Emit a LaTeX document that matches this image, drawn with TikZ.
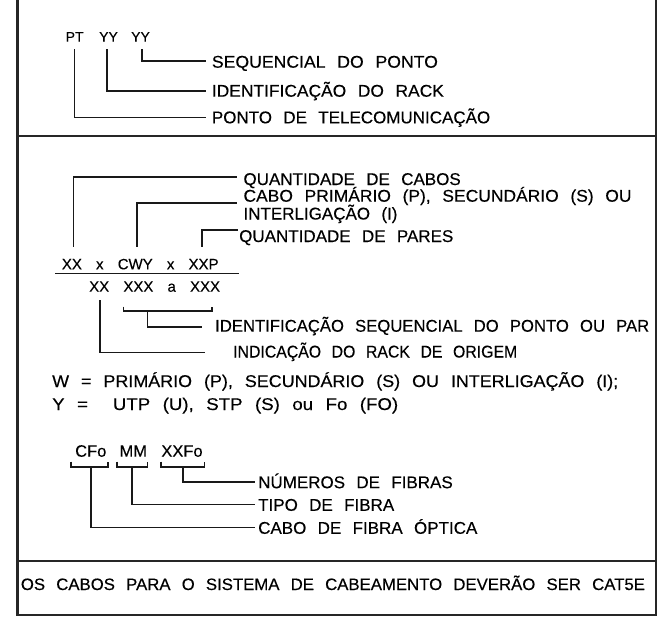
\documentclass[tikz,border=0pt]{standalone}
\usepackage{fontspec}
\usepackage{graphicx}
\setmainfont{Liberation Sans}[WordSpace=2.4, FakeBold=0.3]
\newfontfamily\formfont{Liberation Sans}[WordSpace=3.4, FakeBold=0.3]
\newcommand{\fitw}[2]{\resizebox{#1}{\height}{#2}}
\begin{document}
\begin{tikzpicture}[x=1pt,y=-1pt,
  lbl/.style={anchor=base west, inner sep=0pt, font=\fontsize{17}{17}\selectfont},
  tokpt/.style={anchor=base west, inner sep=0pt, font=\fontsize{14}{14}\selectfont},
  formula/.style={anchor=base west, inner sep=0pt, font=\formfont\fontsize{15}{15}\selectfont},
  fib/.style={anchor=base, inner sep=0pt, font=\fontsize{16.5}{16.5}\selectfont},
  conn/.style={line width=1.6pt, black!90},
  frame/.style={line width=2.2pt, black!85}]
\useasboundingbox (0,0) rectangle (669,630);
% frame
\draw[frame] (17.5,-3) -- (17.5,615) -- (656,615) -- (656,-3);
\draw[frame] (17.5,136) -- (656,136);
\draw[frame] (17.5,561) -- (656,561);

% ---------- top section ----------
\node[tokpt] (pt)  at (65.5,41.7)  {PT};
\node[tokpt] (yy1) at (99,41.7) {YY};
\node[tokpt] (yy2) at (131,41.7) {YY};
\node[lbl] (lseq)  at (211.7,67.7)  {\fitw{226pt}{SEQUENCIAL DO PONTO}};
\node[lbl] (lrack) at (211.7,96.7)  {\fitw{232pt}{IDENTIFICAÇÃO DO RACK}};
\node[lbl] (lpt)   at (211.7,123.3) {PONTO DE TELECOMUNICAÇÃO};
\coordinate (ptA) at (74.3,49);   \coordinate (ptB) at (205.7,117.3);
\coordinate (y1A) at (106.7,49);  \coordinate (y1B) at (205.7,90.7);
\coordinate (y2A) at (141.7,49);  \coordinate (y2B) at (205.7,60.7);
\draw[conn] (ptA) |- (ptB);
\draw[conn] (y1A) |- (y1B);
\draw[conn] (y2A) |- (y2B);

% ---------- middle section ----------
\node[lbl] (lqc)  at (243.3,185)   {QUANTIDADE DE CABOS};
\node[lbl] (lcp)  at (243.3,201.7) {\fitw{388pt}{CABO PRIMÁRIO (P), SECUNDÁRIO (S) OU}};
\node[lbl] (lint) at (243.3,219.5) {INTERLIGAÇÃO (I)};
\node[lbl] (lqp)  at (239,242)     {QUANTIDADE DE PARES};
\node[formula] (f1) at (61.7,269.3) {XX x CWY x XXP};
\node[formula] (f2) at (89,291.7)   {XX XXX a XXX};
\coordinate (uA) at (55,273.3); \coordinate (uB) at (239,273.3);
\draw[conn] (uA) -- (uB);
\coordinate (qcA) at (73.3,246.7);  \coordinate (qcB) at (236.7,176.7);
\coordinate (cpA) at (136.7,246.7); \coordinate (cpB) at (236.7,202.7);
\coordinate (qpA) at (201.7,246.7); \coordinate (qpB) at (238.3,230);
\draw[conn] (qcA) |- (qcB);
\draw[conn] (cpA) |- (cpB);
\draw[conn] (qpA) |- (qpB);
% bracket XXX a XXX
\coordinate (b1) at (123.3,306.7); \coordinate (b2) at (211.7,306.7);
\draw[conn] (b1) -- ++(0,4.3) -| (b2);
\coordinate (bs) at (147.3,311); \coordinate (be) at (201.7,326.7);
\draw[conn] (bs) |- (be);
\node[lbl] (lid) at (215,331.7) {\fitw{434pt}{IDENTIFICAÇÃO SEQUENCIAL DO PONTO OU PAR}};
% rack de origem
\coordinate (rA) at (100,300); \coordinate (rB) at (205,352.5);
\draw[conn] (rA) |- (rB);
\node[lbl] (lro) at (233,357.5) {\fitw{284pt}{INDICAÇÃO DO RACK DE ORIGEM}};
\node[lbl] (lw) at (52,387) {\fitw{566pt}{W = PRIMÁRIO (P), SECUNDÁRIO (S) OU INTERLIGAÇÃO (I);}};
\node[lbl] (ly) at (52,410) {\fitw{346pt}{Y = \ UTP (U), STP (S) ou Fo (FO)}};

% ---------- fibre section ----------
\node[fib] (cfo)  at (90.8,456.7)  {CFo};
\node[fib] (mm)   at (133.3,456.7) {MM};
\node[fib] (xxfo) at (182,456.7)   {XXFo};
\coordinate (c1) at (71,461.7);    \coordinate (c2) at (107.7,461.7);
\coordinate (m1) at (116.7,461.7); \coordinate (m2) at (147.3,461.7);
\coordinate (x1) at (160.7,461.7); \coordinate (x2) at (204.3,461.7);
\draw[conn] (c1) -- ++(0,5) -| (c2);
\draw[conn] (m1) -- ++(0,5) -| (m2);
\draw[conn] (x1) -- ++(0,5) -| (x2);
\coordinate (xA) at (182.7,466.7); \coordinate (xB) at (255,481.7);
\coordinate (mA) at (131.7,466.7); \coordinate (mB) at (255,504.3);
\coordinate (cA) at (90.7,466.7);  \coordinate (cB) at (255,527.3);
\draw[conn] (xA) |- (xB);
\draw[conn] (mA) |- (mB);
\draw[conn] (cA) |- (cB);
\node[lbl] (lnf) at (258,488.2) {NÚMEROS DE FIBRAS};
\node[lbl] (ltf) at (258,510.8) {TIPO DE FIBRA};
\node[lbl] (lcf) at (258,533.8) {CABO DE FIBRA ÓPTICA};

% ---------- bottom ----------
\node[lbl, font=\fontsize{16.5}{16.5}\selectfont] (lbot) at (20.7,590) {\fitw{624pt}{OS CABOS PARA O SISTEMA DE CABEAMENTO DEVERÃO SER CAT5E}};
\end{tikzpicture}
\end{document}
